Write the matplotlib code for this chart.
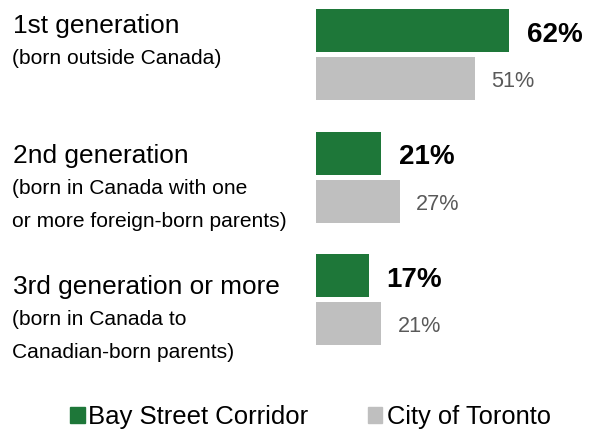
import matplotlib.pyplot as plt
from matplotlib.patches import Rectangle

plt.rcParams['font.family'] = ['Liberation Sans', 'DejaVu Sans']

titles = ["1st generation", "2nd generation", "3rd generation or more"]
subtitles = [["(born outside Canada)"],
             ["(born in Canada with one", "or more foreign-born parents)"],
             ["(born in Canada to", "Canadian-born parents)"]]
bay = [62, 21, 17]
toronto = [51, 27, 21]
series_names = ["Bay Street Corridor", "City of Toronto"]

GREEN = '#1e7739'
GRAY = '#bfbfbf'
W, H = 595, 430

fig = plt.figure(figsize=(W / 100, H / 100), dpi=100)
# bar axes, y in pixels from the top
ax = fig.add_axes([316 / W, 0, 311.5 / W, 1])
ax.set_xlim(0, 100)
ax.set_ylim(H, 0)
ax.axis('off')

bh = 43
for i in range(len(bay)):
    yg = 30.5 + 122.5 * i
    yc = yg + 48
    ax.barh(yg, bay[i], height=bh, color=GREEN, edgecolor='none')
    ax.barh(yc, toronto[i], height=bh, color=GRAY, edgecolor='none')
    ax.text(bay[i] + 5.6, yg + 11.2, f"{bay[i]}%", fontsize=20, fontweight='bold',
            color='black', va='baseline', ha='left')
    ax.text(toronto[i] + 5.2, yc + 8.5, f"{toronto[i]}%", fontsize=15.6,
            color='#595959', va='baseline', ha='left')

    # left hand labels
    base = 33 + 130.5 * i
    fig.text(13 / W, 1 - base / H, titles[i], fontsize=18.9, va='baseline', ha='left')
    for j, line in enumerate(subtitles[i]):
        fig.text(12 / W, 1 - (base + 31 + 32.5 * j) / H, line, fontsize=15.1,
                 va='baseline', ha='left')

# legend
fig.patches.append(Rectangle((70 / W, 1 - 423 / H), 15 / W, 16 / H, color=GREEN,
                             transform=fig.transFigure, figure=fig))
fig.text(88 / W, 1 - 424 / H, series_names[0], fontsize=18.5, va='baseline')
fig.patches.append(Rectangle((368 / W, 1 - 423 / H), 14 / W, 16 / H, color=GRAY,
                             transform=fig.transFigure, figure=fig))
fig.text(387 / W, 1 - 424 / H, series_names[1], fontsize=18.4, va='baseline')

fig.savefig("out.png", dpi=100)
